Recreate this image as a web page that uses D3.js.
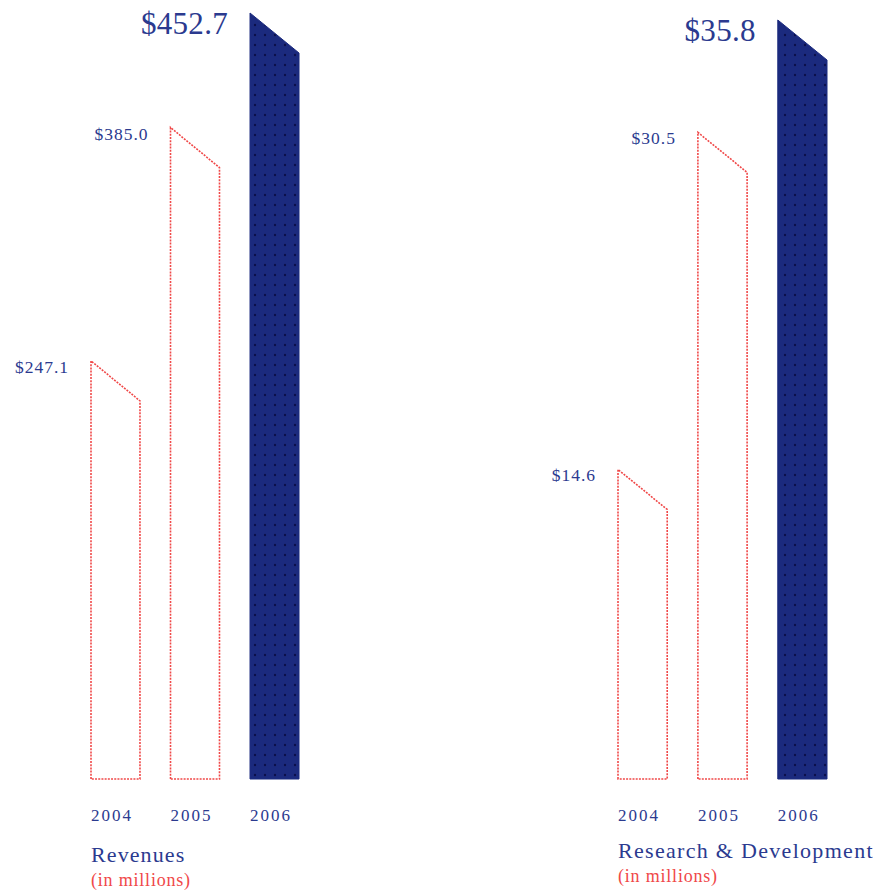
<!DOCTYPE html>
<html><head><meta charset="utf-8">
<script src="https://cdn.jsdelivr.net/npm/d3@7/dist/d3.min.js"></script>
<style>html,body{margin:0;padding:0;background:#fff;}</style>
</head><body>
<script>
const years = ["2004", "2005", "2006"];
const revenues = [247.1, 385.0, 452.7];
const rnd = [14.6, 30.5, 35.8];
const revenueLabels = ["$247.1", "$385.0", "$452.7"];
const rndLabels = ["$14.6", "$30.5", "$35.8"];

const W = 879, H = 895;
const navyText = "#2b3a8f", navyFill = "#1b2a7e", red = "#f04848";
const svg = d3.select("body").append("svg").attr("width", W).attr("height", H);

const defs = svg.append("defs");
const pat = defs.append("pattern").attr("id", "dots").attr("patternUnits", "userSpaceOnUse")
  .attr("width", 10).attr("height", 10);
pat.append("rect").attr("width", 10).attr("height", 10).attr("fill", navyFill);
pat.append("circle").attr("cx", 5).attr("cy", 5).attr("r", 1.2).attr("fill", "#0b0f4a");

function panel(cfg) {
  const x = d3.scaleBand().domain(years).range(cfg.xr).paddingInner(0.384).paddingOuter(0);
  const y = d3.scaleLinear().domain([0, d3.max(cfg.values)]).range([779, cfg.top]);
  const g = svg.append("g");
  const bw = x.bandwidth();
  const slant = 40;
  years.forEach((yr, i) => {
    const v = cfg.values[i];
    const x0 = x(yr), x1 = x0 + bw, yb = y(0), yt = y(v);
    const pts = [[x0, yb], [x0, yt], [x1, yt + slant], [x1, yb]];
    const last = i === years.length - 1;
    g.append("path").attr("d", d3.line()(pts) + "Z")
      .attr("fill", last ? "url(#dots)" : "#fff")
      .attr("stroke", last ? navyFill : red)
      .attr("stroke-width", last ? 1 : 1.6)
      .attr("stroke-dasharray", last ? null : "2,1.2");
    g.append("text").attr("x", x0 - 22).attr("y", yt + (last ? 21 : 12))
      .attr("text-anchor", "end")
      .attr("font-family", "Liberation Serif, serif")
      .attr("font-size", last ? 31 : 17.5)
      .attr("letter-spacing", last ? 0.3 : 1.0)
      .attr("fill", navyText)
      .text(cfg.labels[i]);
    g.append("text").attr("x", x0).attr("y", 821)
      .attr("font-family", "Liberation Serif, serif")
      .attr("font-size", 17).attr("letter-spacing", 2)
      .attr("fill", navyText).text(yr);
  });
  const x0 = x(years[0]);
  g.append("text").attr("x", x0).attr("y", cfg.titleY)
    .attr("font-family", "Liberation Serif, serif").attr("font-size", 22)
    .attr("letter-spacing", cfg.titleLS).attr("fill", navyText).text(cfg.title);
  g.append("text").attr("x", x0).attr("y", cfg.titleY + 24)
    .attr("font-family", "Liberation Serif, serif").attr("font-size", 18)
    .attr("letter-spacing", 0.8).attr("fill", red).text("(in millions)");
}

panel({ xr: [91, 299], values: revenues, labels: revenueLabels, top: 13, title: "Revenues", titleY: 862, titleLS: 1.1 });
panel({ xr: [618, 827], values: rnd, labels: rndLabels, top: 20, title: "Research & Development", titleY: 858, titleLS: 1.3 });
</script>
</body></html>
